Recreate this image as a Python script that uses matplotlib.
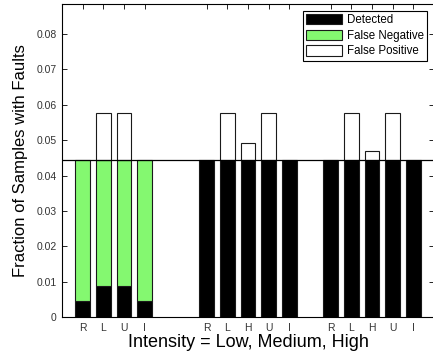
import matplotlib
matplotlib.use("Agg")
import matplotlib.pyplot as plt
from matplotlib.patches import Patch

plt.rcParams['font.family'] = ['Liberation Sans', 'DejaVu Sans']

# ---- data ----
groups = ['Low', 'Medium', 'High']
bar_labels = [['R', 'L', 'U', 'I'],
              ['R', 'L', 'H', 'U', 'I'],
              ['R', 'L', 'H', 'U', 'I']]
faulty_fraction = 0.0444
detected = [[0.0044, 0.0089, 0.0089, 0.0044],
            [0.0444, 0.0444, 0.0444, 0.0444, 0.0444],
            [0.0444, 0.0444, 0.0444, 0.0444, 0.0444]]
false_positive = [[0.0, 0.0132, 0.0132, 0.0],
                  [0.0, 0.0132, 0.0049, 0.0132, 0.0],
                  [0.0, 0.0132, 0.0024, 0.0132, 0.0]]
yticks = [0, 0.01, 0.02, 0.03, 0.04, 0.05, 0.06, 0.07, 0.08]
ytick_labels = ['0', '0.01', '0.02', '0.03', '0.04', '0.05', '0.06', '0.07', '0.08']

green = '#84F870'
edge = '#1a1a1a'
width = 0.72

fig = plt.figure(figsize=(4.33, 3.61), dpi=100)
ax = fig.add_axes([62/433, 1 - 317/361, 372/433, 313/361])

positions, labels = [], []
for g in range(len(groups)):
    start = 1 + 6 * g
    for i, lab in enumerate(bar_labels[g]):
        x = start + i
        positions.append(x)
        labels.append(lab)
        d = detected[g][i]
        fn = faulty_fraction - d
        fp = false_positive[g][i]
        ax.bar(x, d, width, color='black', edgecolor=edge, linewidth=0.8)
        if fn > 1e-9:
            ax.bar(x, fn, width, bottom=d, color=green, edgecolor=edge, linewidth=0.8)
        if fp > 1e-9:
            ax.bar(x, fp, width, bottom=faulty_fraction, color='white',
                   edgecolor=edge, linewidth=0.8)

ax.axhline(faulty_fraction, color='black', linewidth=0.9, zorder=5)

ax.set_xlim(0, 18)
ax.set_ylim(0, 0.0885)
ax.set_xticks(positions)
ax.set_xticklabels(labels, fontsize=7.5, color='#333333')
ax.set_yticks(yticks)
ax.set_yticklabels(ytick_labels, fontsize=7.5, color='#333333')
ax.tick_params(direction='in', length=3.5, width=0.6, top=True, right=True,
               pad=4)
for s in ax.spines.values():
    s.set_linewidth(0.8)

ax.set_xlabel('Intensity = Low, Medium, High', fontsize=13, labelpad=1)
ax.set_ylabel('Fraction of Samples with Faults', fontsize=12, labelpad=6)

handles = [Patch(facecolor='black', edgecolor=edge, linewidth=0.8, label='Detected'),
           Patch(facecolor=green, edgecolor=edge, linewidth=0.8, label='False Negative'),
           Patch(facecolor='white', edgecolor=edge, linewidth=0.8, label='False Positive')]
leg = ax.legend(handles=handles, loc='upper right',
                bbox_to_anchor=(427/433, 1 - 10.7/361), bbox_transform=fig.transFigure,
                fontsize=8.3, fancybox=False, framealpha=1, edgecolor='black',
                borderaxespad=0, handlelength=3.1, handleheight=1.0,
                labelspacing=0.3, handletextpad=0.4, borderpad=0.3)
leg.get_frame().set_linewidth(0.8)

fig.savefig('out.png', dpi=100)
